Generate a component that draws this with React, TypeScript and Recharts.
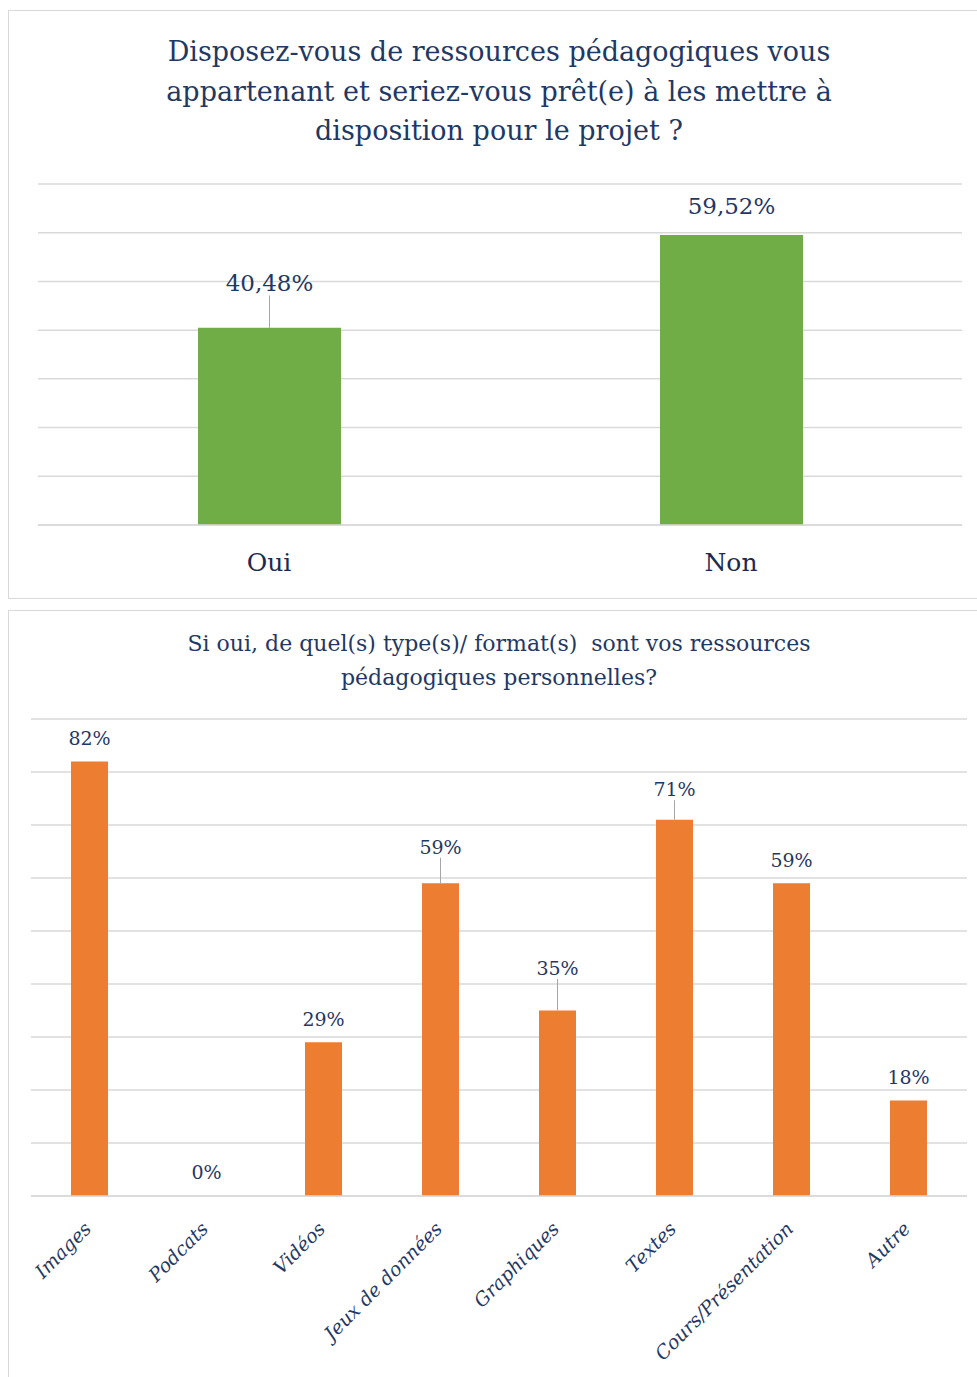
import React from "react";
import { BarChart, Bar, XAxis, YAxis, CartesianGrid, LabelList, Rectangle } from "recharts";

// top chart: yes / no
const topCategories = ["Oui", "Non"];
const topValues = [40.48, 59.52];
const topTicks = [0, 10, 20, 30, 40, 50, 60, 70];

// bottom chart: resource types
const bottomCategories = [
  "Images",
  "Podcats",
  "Vidéos",
  "Jeux de données",
  "Graphiques",
  "Textes",
  "Cours/Présentation",
  "Autre"
];
const bottomValues = [82, 0, 29, 59, 35, 71, 59, 18];
const bottomTicks = [0, 10, 20, 30, 40, 50, 60, 70, 80, 90];

const topData = topCategories.map((name, i) => ({ name, value: topValues[i] }));
const bottomData = bottomCategories.map((name, i) => ({ name, value: bottomValues[i] }));

const NAVY = "#1f3864";
const GRID = "#d9d9d9";
const FONT = "'DejaVu Serif', 'Liberation Serif', serif";

// labels pushed higher with a leader line, like Excel's moved data labels
const topLift: Record<string, number> = { Oui: 16 };
const bottomLift: Record<string, number> = {
  "Jeux de données": 13,
  Graphiques: 19,
  Textes: 7
};

function makeLabel(
  categories: string[],
  lift: Record<string, number>,
  base: number,
  size: number,
  fmt: (v: number) => string
) {
  return (props: any) => {
    const { x, y, width, height, value, index } = props;
    const cx = Number(x) + Number(width) / 2;
    const top = Math.min(Number(y), Number(y) + Number(height));
    const extra = lift[categories[index]] || 0;
    const cy = top - base - extra;
    return (
      <g>
        {extra > 0 && (
          <line
            x1={cx}
            y1={cy + size * 0.55}
            x2={cx}
            y2={top}
            stroke="#a6a6a6"
            strokeWidth={1}
          />
        )}
        <text
          x={cx}
          y={cy}
          dy="0.35em"
          textAnchor="middle"
          fill={NAVY}
          fontSize={size}
          fontFamily={FONT}
        >
          {fmt(Number(value))}
        </text>
      </g>
    );
  };
}

// zero values keep their label (minPointSize) but draw no rectangle
const BarShape = (props: any) =>
  Number(props.value) === 0 ? <g /> : <Rectangle {...props} />;

const RotatedTick = (props: any) => {
  const { x, y, payload } = props;
  const ax = x + 3;
  const ay = y + 26;
  return (
    <text
      x={ax}
      y={ay}
      textAnchor="end"
      transform={`rotate(-45 ${ax} ${ay})`}
      fill={NAVY}
      fontSize={19}
      fontStyle="italic"
      fontFamily={FONT}
    >
      {payload.value}
    </text>
  );
};

const panel: React.CSSProperties = {
  position: "absolute",
  left: 8,
  width: 990,
  border: "1px solid #d9d9d9",
  background: "#fff",
  boxSizing: "border-box"
};

export default function App() {
  return (
    <div
      style={{
        position: "absolute",
        left: 0,
        top: 0,
        width: 977,
        height: 1377,
        overflow: "hidden",
        background: "#fff",
        fontFamily: FONT
      }}
    >
      <div style={{ ...panel, top: 10, height: 589 }} />
      <div style={{ ...panel, top: 610, height: 800 }} />

      <div
        style={{
          position: "absolute",
          left: 0,
          top: 32,
          width: 998,
          textAlign: "center",
          color: NAVY,
          fontSize: 27,
          lineHeight: "39.5px"
        }}
      >
        Disposez-vous de ressources pédagogiques vous
        <br />
        appartenant et seriez-vous prêt(e) à les mettre à
        <br />
        disposition pour le projet ?
      </div>

      <div style={{ position: "absolute", left: 0, top: 0 }}>
        <BarChart
          width={977}
          height={600}
          data={topData}
          margin={{ top: 184, right: 15, bottom: 25, left: 38 }}
        >
          <CartesianGrid horizontal vertical={false} stroke={GRID} strokeWidth={1.5} />
          <YAxis hide domain={[0, 70]} ticks={topTicks} />
          <XAxis
            dataKey="name"
            height={50}
            axisLine={{ stroke: GRID, strokeWidth: 1.5 }}
            tickLine={false}
            tick={{ fill: "#1c2a4f", fontSize: 25, fontFamily: FONT }}
            tickMargin={22}
          />
          <Bar
            dataKey="value"
            fill="#70ad47"
            barSize={143}
            minPointSize={1}
            shape={BarShape}
            isAnimationActive={false}
          >
            <LabelList
              dataKey="value"
              content={makeLabel(topCategories, topLift, 29, 23, (v) =>
                v.toFixed(2).replace(".", ",") + "%"
              )}
            />
          </Bar>
        </BarChart>
      </div>

      <div
        style={{
          position: "absolute",
          left: 0,
          top: 627,
          width: 998,
          textAlign: "center",
          color: NAVY,
          fontSize: 22,
          lineHeight: "34px",
          whiteSpace: "pre"
        }}
      >
        {"Si oui, de quel(s) type(s)/ format(s)  sont vos ressources"}
        <br />
        pédagogiques personnelles?
      </div>

      <div style={{ position: "absolute", left: 0, top: 600 }}>
        <BarChart
          width={977}
          height={777}
          data={bottomData}
          margin={{ top: 119, right: 10, bottom: 21, left: 31 }}
        >
          <CartesianGrid horizontal vertical={false} stroke={GRID} strokeWidth={1.5} />
          <YAxis hide domain={[0, 90]} ticks={bottomTicks} />
          <XAxis
            dataKey="name"
            height={160}
            interval={0}
            axisLine={{ stroke: GRID, strokeWidth: 1.5 }}
            tickLine={false}
            tick={<RotatedTick />}
          />
          <Bar
            dataKey="value"
            fill="#ed7d31"
            barSize={37}
            minPointSize={1}
            shape={BarShape}
            isAnimationActive={false}
          >
            <LabelList
              dataKey="value"
              content={makeLabel(bottomCategories, bottomLift, 23, 19, (v) => `${v}%`)}
            />
          </Bar>
        </BarChart>
      </div>
    </div>
  );
}
